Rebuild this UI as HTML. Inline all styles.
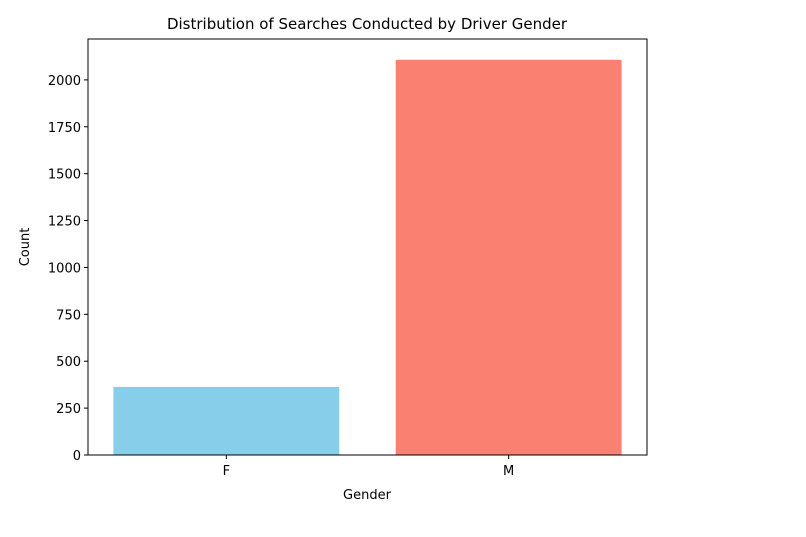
<!DOCTYPE html>
<html><head><meta charset="utf-8"><style>
body{margin:0;background:#fff;width:806px;height:532px;overflow:hidden}
text{font-family:"DejaVu Sans","Liberation Sans",sans-serif;fill:#000}
</style></head><body>
<svg id="chart" width="806" height="532" xmlns="http://www.w3.org/2000/svg">
<text x="367" y="29" font-size="15" text-anchor="middle">Distribution of Searches Conducted by Driver Gender</text>
<g id="plot"></g>
<text x="367" y="499" font-size="13" text-anchor="middle">Gender</text>
<text transform="translate(29,247) rotate(-90)" font-size="13" text-anchor="middle">Count</text>
</svg>
<script>
const categories=["F","M"];
const counts=[363,2107];
const colors=["#87ceeb","#fa8072"];
const yTicks=[0,250,500,750,1000,1250,1500,1750,2000];
const L=88,R=647,T=39,B=455;
const xMin=-0.49,xMax=1.49,yMin=0,yMax=2218;
const xs=v=>L+(v-xMin)/(xMax-xMin)*(R-L);
const ys=v=>B-(v-yMin)/(yMax-yMin)*(B-T);
const g=document.getElementById('plot');
const NS="http://www.w3.org/2000/svg";
function mk(t,a){const e=document.createElementNS(NS,t);for(const k in a)e.setAttribute(k,a[k]);g.appendChild(e);return e;}
categories.forEach((c,i)=>{
  const r=mk('rect',{x:xs(i-0.4),y:ys(counts[i]),width:xs(i+0.4)-xs(i-0.4),height:ys(0)-ys(counts[i]),fill:colors[i]});
  
  
  const tk=mk('line',{x1:xs(i),x2:xs(i),y1:B,y2:B+4,stroke:'#000','stroke-width':1});
  
  
  const tl=mk('text',{x:xs(i),y:B+20,'font-size':13,'text-anchor':'middle'});
  tl.textContent=c;
  
  
});
yTicks.forEach(v=>{
  const y=ys(v);
  const tk=mk('line',{x1:L-4,x2:L,y1:y,y2:y,stroke:'#000','stroke-width':1});
  
  
  const tl=mk('text',{x:L-7,y:y+5,'font-size':13,'text-anchor':'end'});
  tl.textContent=v;
  
  
});
const f=mk('rect',{x:L,y:T,width:R-L,height:B-T,fill:'none',stroke:'#000','stroke-width':1});


</script>
</body></html>
